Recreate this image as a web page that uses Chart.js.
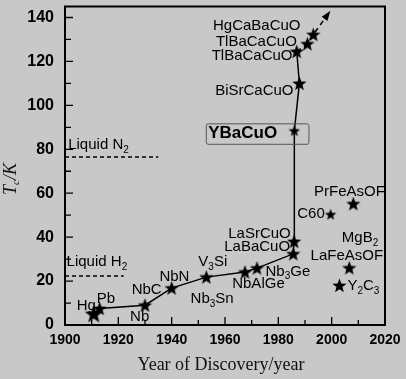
<!DOCTYPE html>
<html>
<head>
<meta charset="utf-8">
<script src="https://cdn.jsdelivr.net/npm/chart.js@4/dist/chart.umd.min.js"></script>
<style>
html, body { margin: 0; padding: 0; background: #c8c8c8; }
#wrap { width: 406px; height: 379px; }
</style>
</head>
<body>
<div id="wrap"><canvas id="myChart"></canvas></div>
<script>
'use strict';
// main discovery path: Hg, Pb, Nb, NbN, V3Si, NbAlGe, Nb3Ge, LaBaCuO, LaSrCuO,
// YBaCuO, BiSrCaCuO, TlBaCaCuO, TlBaCaCuO, HgCaBaCuO, arrow tip
const mainYears = [1910.8, 1913, 1930, 1940, 1953, 1967.5, 1972, 1985.6, 1985.9, 1986, 1987.9, 1986.9, 1990.9, 1993.1, 1999.1];
const mainTc = [5, 7.5, 9, 16.8, 21.8, 24.1, 25.9, 32.4, 38, 88.5, 110, 124.5, 128, 132.2, 142.3];
const dashFrom = 11;

// C60, PrFeAsOF, LaFeAsOF, Y2C3
const otherYears = [1999.6, 2008.1, 2006.6, 2002.9];
const otherTc = [50.4, 55.2, 26, 18];

const n2Years = [1900, 1935];
const n2Tc = [76.5, 76.5];
const h2Years = [1900, 1922];
const h2Tc = [22.3, 22.3];

const xTickLabels = [1900, 1920, 1940, 1960, 1980, 2000, 2020];
const yTickLabels = [0, 20, 40, 60, 80, 100, 120, 140];

// text labels: text ("_" = subscript next char), left year, middle Tc
const labels = [
    ['HgCaBaCuO', 1955.5, 136],
    ['TlBaCaCuO', 1956.6, 129],
    ['TlBaCaCuO', 1955, 122.7],
    ['BiSrCaCuO', 1956.3, 106.4],
    ['LaSrCuO', 1961.2, 41.7],
    ['LaBaCuO', 1959.7, 35.4],
    ['Nb_3Ge', 1975.2, 24.4],
    ['NbAlGe', 1962.7, 18.8],
    ['V_3Si', 1950, 28.6],
    ['Nb_3Sn', 1947.1, 11.7],
    ['NbN', 1935.4, 21.8],
    ['NbC', 1925, 15.8],
    ['Nb', 1924.4, 3.5],
    ['Pb', 1911.9, 12],
    ['Hg', 1904.4, 8.6],
    ['Liquid N_2', 1901.2, 82],
    ['Liquid H_2', 1900.6, 28.6],
    ['C60', 1987.1, 50.4],
    ['PrFeAsOF', 1993.4, 60.6],
    ['MgB_2', 2003.8, 39.6],
    ['LaFeAsOF', 1992.1, 31.6],
    ['Y_2C_3', 2005.9, 17.6]
];
const boxLabel = ['YBaCuO', 1953.7, 87.2];
const boxRange = [1952.8, 1991.3, 82.5, 91.8];

function makeStar(size) {
    const c = document.createElement('canvas');
    c.width = c.height = size;
    const g = c.getContext('2d');
    const r = size / 2, ri = r * 0.42;
    g.beginPath();
    for (let i = 0; i < 10; i++) {
        const a = -Math.PI / 2 + i * Math.PI / 5;
        const rr = i % 2 ? ri : r;
        g.lineTo(r + rr * Math.cos(a), r + 0.6 + rr * Math.sin(a));
    }
    g.closePath();
    g.fillStyle = '#000';
    g.fill();
    return c;
}
const star = makeStar(15);
const bigStar = makeStar(19);
const smallStar = makeStar(12);

function splitRich(str) {
    const parts = [];
    for (let i = 0; i < str.length; i++) {
        if (str[i] === '_') {
            parts.push({ t: str[i + 1], sub: true });
            i++;
        } else if (parts.length && !parts[parts.length - 1].sub) {
            parts[parts.length - 1].t += str[i];
        } else {
            parts.push({ t: str[i], sub: false });
        }
    }
    return parts;
}

function drawRich(ctx, str, x, y, font, subFont, subDy) {
    ctx.textBaseline = 'middle';
    ctx.textAlign = 'left';
    let cx = x;
    for (const p of splitRich(str)) {
        ctx.font = p.sub ? subFont : font;
        ctx.fillText(p.t, cx, p.sub ? y + subDy : y);
        cx += ctx.measureText(p.t).width;
    }
    return cx - x;
}

function richWidth(ctx, str, font, subFont) {
    let w = 0;
    for (const p of splitRich(str)) {
        ctx.font = p.sub ? subFont : font;
        w += ctx.measureText(p.t).width;
    }
    return w;
}

const decor = {
    id: 'decor',
    beforeDatasetsDraw(chart) {
        const { ctx, chartArea: a, scales: { x, y } } = chart;
        ctx.save();
        ctx.strokeStyle = '#000';
        // inward ticks
        ctx.lineWidth = 1.3;
        ctx.beginPath();
        x.ticks.forEach(t => {
            const px = x.getPixelForValue(t.value);
            const len = t.value % 20 === 0 ? 8 : 5;
            ctx.moveTo(px, a.bottom);
            ctx.lineTo(px, a.bottom - len);
        });
        y.ticks.forEach(t => {
            const py = y.getPixelForValue(t.value);
            const len = t.value % 20 === 0 ? 8 : 6;
            ctx.moveTo(a.left, py);
            ctx.lineTo(a.left + len, py);
        });
        ctx.stroke();
        // frame
        ctx.lineWidth = 2;
        ctx.strokeRect(a.left, a.top, a.right - a.left, a.bottom - a.top);
        ctx.restore();
    },
    afterDatasetsDraw(chart) {
        const { ctx, scales: { x, y } } = chart;
        ctx.save();
        ctx.fillStyle = '#000';
        const font = '15px "Liberation Sans", Arial, sans-serif';
        const subFont = '10px "Liberation Sans", Arial, sans-serif';
        labels.forEach(([t, yr, tc]) => {
            drawRich(ctx, t, x.getPixelForValue(yr), y.getPixelForValue(tc), font, subFont, 5);
        });
        // boxed YBaCuO
        const bx0 = x.getPixelForValue(boxRange[0]), bx1 = x.getPixelForValue(boxRange[1]);
        const by0 = y.getPixelForValue(boxRange[3]), by1 = y.getPixelForValue(boxRange[2]);
        ctx.strokeStyle = '#555';
        ctx.lineWidth = 1;
        ctx.beginPath();
        ctx.roundRect(bx0 + 0.5, by0 + 0.5, bx1 - bx0, by1 - by0, 2);
        ctx.stroke();
        ctx.fillStyle = '#000';
        drawRich(ctx, boxLabel[0], x.getPixelForValue(boxLabel[1]), y.getPixelForValue(boxLabel[2]),
            'bold 17px "Liberation Sans", Arial, sans-serif', '', 0);
        // arrow head at end of dashed trend
        const pts = chart.getDatasetMeta(0).data;
        const p1 = pts[pts.length - 1], p0 = pts[pts.length - 2];
        const ang = Math.atan2(p1.y - p0.y, p1.x - p0.x);
        ctx.translate(p1.x, p1.y);
        ctx.rotate(ang);
        ctx.beginPath();
        ctx.moveTo(2, 0);
        ctx.lineTo(-8, -3.5);
        ctx.lineTo(-8, 3.5);
        ctx.closePath();
        ctx.fill();
        ctx.restore();
        // axis titles
        ctx.save();
        ctx.fillStyle = '#111';
        ctx.font = '18px "Liberation Serif", "Times New Roman", serif';
        ctx.textAlign = 'center';
        ctx.textBaseline = 'middle';
        ctx.fillText('Year of Discovery/year', 221, 365);
        const tFont = 'italic 18px "Liberation Serif", serif';
        const tSub = 'italic 11px "Liberation Serif", serif';
        const title = 'T_c/K';
        const w = richWidth(ctx, title, tFont, tSub);
        ctx.translate(11, 179);
        ctx.rotate(-Math.PI / 2);
        drawRich(ctx, title, -w / 2, 0, tFont, tSub, 5);
        ctx.restore();
    }
};

const toXY = (xs, ys) => xs.map((v, i) => ({ x: v, y: ys[i] }));
const lastIdx = mainYears.length - 1;

const ctx = document.getElementById('myChart').getContext('2d');
new Chart(ctx, {
    type: 'scatter',
    data: {
        datasets: [{
            data: toXY(mainYears, mainTc),
            showLine: true,
            borderColor: '#000',
            borderWidth: 1.5,
            pointStyle: mainYears.map((_, i) => i === 0 ? bigStar : (i === 9 ? smallStar : star)),
            pointRadius: mainYears.map((_, i) => i === lastIdx ? 0 : 5),
            segment: {
                borderDash: c => c.p0DataIndex >= dashFrom ? [5, 4] : undefined
            }
        }, {
            data: toXY(otherYears, otherTc),
            showLine: false,
            pointStyle: otherYears.map((_, i) => i === 0 ? smallStar : star),
            pointRadius: 5
        }, {
            data: toXY(n2Years, n2Tc),
            showLine: true,
            borderColor: '#000',
            borderWidth: 1.5,
            borderDash: [4, 3],
            pointRadius: 0
        }, {
            data: toXY(h2Years, h2Tc),
            showLine: true,
            borderColor: '#000',
            borderWidth: 1.5,
            borderDash: [4, 3],
            pointRadius: 0
        }]
    },
    options: {
        responsive: true,
        maintainAspectRatio: false,
        animation: false,
        layout: { padding: { left: 0, right: 21, top: 4, bottom: 0 } },
        plugins: { legend: { display: false }, tooltip: { enabled: false } },
        scales: {
            x: {
                type: 'linear',
                min: 1900,
                max: 2020,
                afterFit(s) {
                    s.height = 54;
                    s.paddingLeft = 0;
                    s.paddingRight = 0;
                },
                border: { display: false },
                grid: { display: false, drawTicks: false, tickLength: 0 },
                ticks: {
                    stepSize: 10,
                    autoSkip: false,
                    maxRotation: 0,
                    padding: 7,
                    color: '#000',
                    font: { family: '"Liberation Sans", Arial', size: 14, weight: 'bold' },
                    callback: v => xTickLabels.includes(v) ? String(v) : ''
                }
            },
            y: {
                min: 0,
                max: 145,
                afterFit(s) {
                    s.width = 65;
                    s.paddingTop = 0;
                    s.paddingBottom = 0;
                },
                border: { display: false },
                grid: { display: false, drawTicks: false, tickLength: 0 },
                ticks: {
                    stepSize: 10,
                    includeBounds: false,
                    autoSkip: false,
                    padding: 11,
                    color: '#000',
                    font: { family: '"Liberation Sans", Arial', size: 16, weight: 'bold' },
                    callback: v => yTickLabels.includes(v) ? String(v) : ''
                }
            }
        }
    },
    plugins: [decor]
});
</script>
</body>
</html>
